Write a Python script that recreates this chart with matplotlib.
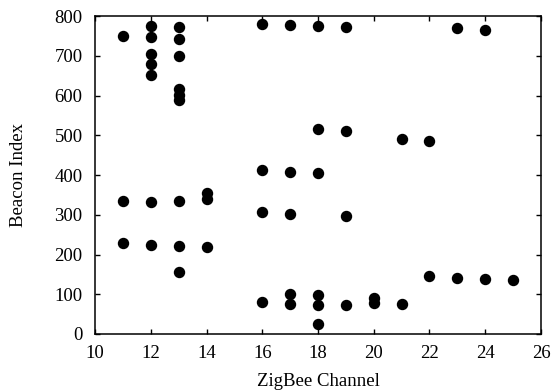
import matplotlib
matplotlib.use("Agg")
import matplotlib.pyplot as plt
import numpy as np

plt.rcParams['font.family'] = ['Liberation Serif', 'DejaVu Serif']

# channel -> beacon indices
channels = [11, 11, 11,
            12, 12, 12, 12, 12, 12, 12,
            13, 13, 13, 13, 13, 13, 13, 13, 13,
            14, 14, 14,
            16, 16, 16, 16,
            17, 17, 17, 17, 17,
            18, 18, 18, 18, 18, 18,
            19, 19, 19, 19,
            20, 20,
            21, 21,
            22, 22,
            23, 23,
            24, 24,
            25]
beacons = [751, 335, 229,
           776, 747, 704, 679, 651, 331, 224,
           773, 743, 700, 616, 602, 588, 334, 222, 157,
           355, 339, 220,
           781, 413, 307, 80,
           777, 408, 302, 100, 76,
           775, 517, 406, 97, 74, 26,
           773, 512, 298, 72,
           90, 77,
           490, 75,
           486, 147,
           769, 142,
           765, 138,
           137]

fig = plt.figure(figsize=(5.54, 3.92), dpi=100)
ax = fig.add_axes([0.1715, 0.148, 0.805, 0.811])
ax.plot(channels, beacons, 'o', color='black', markersize=7.2, linestyle='none')

ax.set_xlim(10, 26)
ax.set_ylim(0, 800)
ax.set_xticks(np.arange(10, 27, 2))
ax.set_yticks(np.arange(0, 801, 100))
ax.tick_params(direction='in', top=True, right=True, length=3.6, width=1,
               labelsize=13.5)
ax.tick_params(axis='y', pad=9)
ax.tick_params(axis='x', pad=8)
for s in ax.spines.values():
    s.set_linewidth(1.1)
ax.set_xlabel('ZigBee Channel', fontsize=13.5, labelpad=8)
ax.set_ylabel('Beacon Index', fontsize=13.5, labelpad=20)

fig.savefig('out.png', dpi=100)
